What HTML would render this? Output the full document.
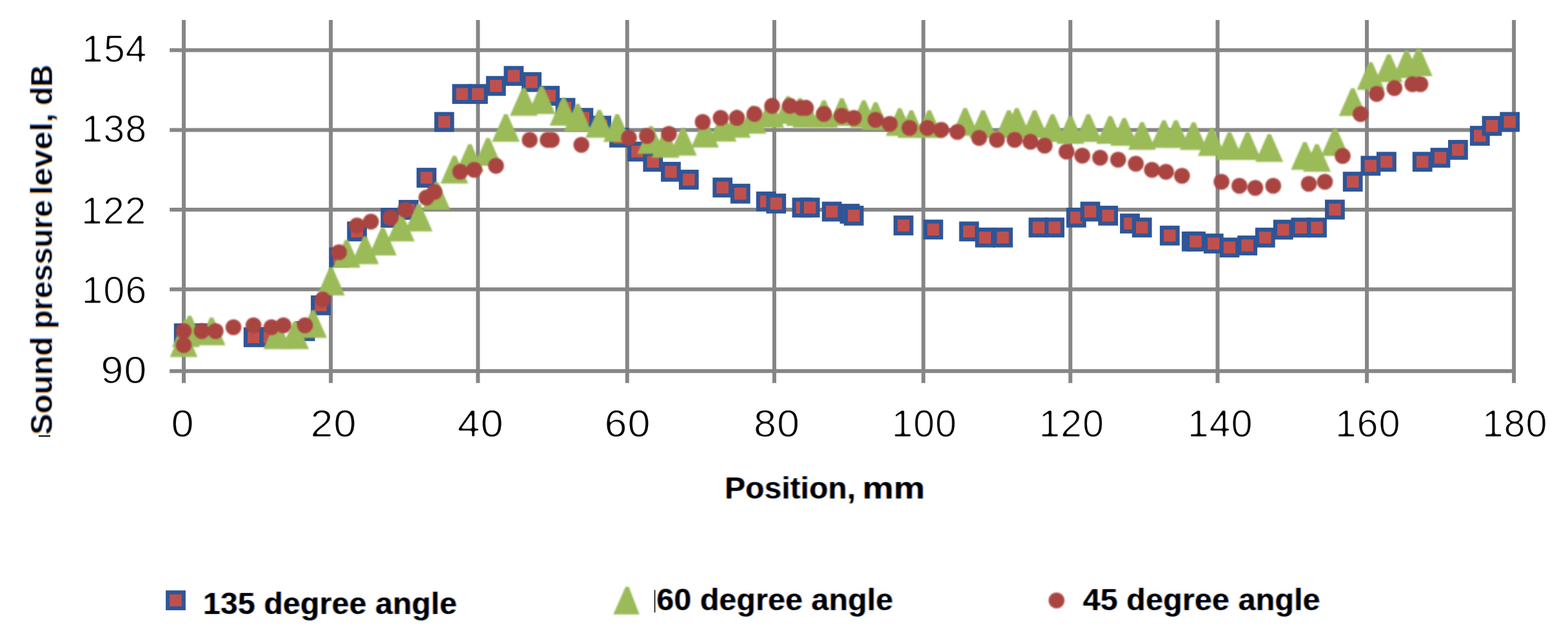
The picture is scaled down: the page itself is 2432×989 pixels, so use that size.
<!DOCTYPE html>
<html lang="en">
<head>
<meta charset="utf-8">
<title>Sound pressure level vs position</title>
<style>
html,body{margin:0;padding:0;background:#fff;}
body{width:2432px;height:989px;overflow:hidden;font-family:"Liberation Sans",sans-serif;}
svg{display:block;}
.t{font-family:"Liberation Sans",sans-serif;font-size:59.5px;letter-spacing:0.8px;fill:#000;filter:url(#ft);}
.b{font-family:"Liberation Sans",sans-serif;font-size:49px;font-weight:bold;fill:#000;}
.b text{filter:url(#fb);}
.b text.v{filter:url(#fv);}
.g{stroke:#868686;stroke-width:6;fill:none;}
.s rect{fill:#c0504d;stroke:#2f5597;stroke-width:6.2;}
.r path{fill:#9bbb59;}
.c circle{fill:#aa4440;}
.r,.c{filter:url(#soft);}
</style>
</head>
<body>
<svg width="2432" height="989" viewBox="0 0 2432 989">
<defs>
<filter id="soft" x="0" y="0" width="100%" height="100%" filterUnits="userSpaceOnUse" color-interpolation-filters="sRGB">
  <feGaussianBlur stdDeviation="0.8"/>
</filter>
<filter id="ft" x="-10%" y="-30%" width="120%" height="160%" color-interpolation-filters="sRGB">
  <feGaussianBlur in="SourceAlpha" stdDeviation="1.0" result="b"/>
  <feComponentTransfer in="b" result="core"><feFuncA type="linear" slope="3.0" intercept="-1.6"/></feComponentTransfer>
  <feFlood flood-color="#000"/><feComposite in2="core" operator="in"/>
</filter>
<filter id="fb" x="-10%" y="-40%" width="120%" height="180%" color-interpolation-filters="sRGB">
  <feGaussianBlur in="SourceAlpha" stdDeviation="1.0" result="b"/>
  <feComponentTransfer in="b" result="core"><feFuncA type="linear" slope="3.0" intercept="-1.5"/></feComponentTransfer>
  <feOffset in="SourceAlpha" dx="-1.4" result="ol"/>
  <feFlood flood-color="#d07818" flood-opacity="0.8"/><feComposite in2="ol" operator="in" result="or"/>
  <feOffset in="SourceAlpha" dx="1.4" result="bl"/>
  <feFlood flood-color="#2468d0" flood-opacity="0.8"/><feComposite in2="bl" operator="in" result="bu"/>
  <feFlood flood-color="#000"/><feComposite in2="core" operator="in" result="k"/>
  <feMerge result="m"><feMergeNode in="or"/><feMergeNode in="bu"/><feMergeNode in="k"/></feMerge>
  <feGaussianBlur in="m" stdDeviation="0.6"/>
</filter>
<filter id="fv" x="-10%" y="-40%" width="120%" height="180%" color-interpolation-filters="sRGB">
  <feGaussianBlur in="SourceAlpha" stdDeviation="1.3" result="b"/>
  <feComponentTransfer in="b" result="core"><feFuncA type="linear" slope="3.0" intercept="-1.9"/></feComponentTransfer>
  <feOffset in="SourceAlpha" dx="-1.2" result="ol"/>
  <feFlood flood-color="#d07818" flood-opacity="0.7"/><feComposite in2="ol" operator="in" result="or"/>
  <feOffset in="SourceAlpha" dx="1.2" result="bl"/>
  <feFlood flood-color="#2468d0" flood-opacity="0.7"/><feComposite in2="bl" operator="in" result="bu"/>
  <feFlood flood-color="#000"/><feComposite in2="core" operator="in" result="k"/>
  <feMerge result="m"><feMergeNode in="or"/><feMergeNode in="bu"/><feMergeNode in="k"/></feMerge>
  <feGaussianBlur in="m" stdDeviation="0.6"/>
</filter>
</defs>
<rect width="2432" height="989" fill="#fff"/>
<g class="g">
<line x1="263.2" y1="77.8" x2="2351.1" y2="77.8"/>
<line x1="263.2" y1="201.4" x2="2351.1" y2="201.4"/>
<line x1="263.2" y1="324.9" x2="2351.1" y2="324.9"/>
<line x1="263.2" y1="448.6" x2="2351.1" y2="448.6"/>
<line x1="263.2" y1="575.3" x2="2351.1" y2="575.3"/>
<line x1="285.0" y1="31.1" x2="285.0" y2="593.7"/>
<line x1="513.1" y1="31.1" x2="513.1" y2="593.7"/>
<line x1="741.3" y1="31.1" x2="741.3" y2="593.7"/>
<line x1="972.8" y1="31.1" x2="972.8" y2="593.7"/>
<line x1="1201.0" y1="31.1" x2="1201.0" y2="593.7"/>
<line x1="1432.2" y1="31.1" x2="1432.2" y2="593.7"/>
<line x1="1660.2" y1="31.1" x2="1660.2" y2="593.7"/>
<line x1="1888.5" y1="31.1" x2="1888.5" y2="593.7"/>
<line x1="2120.0" y1="31.1" x2="2120.0" y2="593.7"/>
<line x1="2348.1" y1="31.1" x2="2348.1" y2="593.7"/>
</g>
<g class="s">
<rect x="272.9" y="504.4" width="24.6" height="24.6"/>
<rect x="300.5" y="504.4" width="24.6" height="24.6"/>
<rect x="380.9" y="510.5" width="24.6" height="24.6"/>
<rect x="405.7" y="510.3" width="24.6" height="24.6"/>
<rect x="460.8" y="501.0" width="24.6" height="24.6"/>
<rect x="485.2" y="461.0" width="24.6" height="24.6"/>
<rect x="513.7" y="386.7" width="24.6" height="24.6"/>
<rect x="541.4" y="346.5" width="24.6" height="24.6"/>
<rect x="593.5" y="325.3" width="24.6" height="24.6"/>
<rect x="621.4" y="313.0" width="24.6" height="24.6"/>
<rect x="649.2" y="263.2" width="24.6" height="24.6"/>
<rect x="676.7" y="176.7" width="24.6" height="24.6"/>
<rect x="704.4" y="133.4" width="24.6" height="24.6"/>
<rect x="729.0" y="133.4" width="24.6" height="24.6"/>
<rect x="756.9" y="120.9" width="24.6" height="24.6"/>
<rect x="784.5" y="105.4" width="24.6" height="24.6"/>
<rect x="812.2" y="114.9" width="24.6" height="24.6"/>
<rect x="840.4" y="136.2" width="24.6" height="24.6"/>
<rect x="864.7" y="154.9" width="24.6" height="24.6"/>
<rect x="892.5" y="170.4" width="24.6" height="24.6"/>
<rect x="920.4" y="182.5" width="24.6" height="24.6"/>
<rect x="948.2" y="201.0" width="24.6" height="24.6"/>
<rect x="976.2" y="222.7" width="24.6" height="24.6"/>
<rect x="1000.5" y="238.5" width="24.6" height="24.6"/>
<rect x="1028.2" y="254.0" width="24.6" height="24.6"/>
<rect x="1056.0" y="266.2" width="24.6" height="24.6"/>
<rect x="1108.4" y="278.4" width="24.6" height="24.6"/>
<rect x="1136.0" y="287.9" width="24.6" height="24.6"/>
<rect x="1175.9" y="300.0" width="24.6" height="24.6"/>
<rect x="1191.5" y="303.2" width="24.6" height="24.6"/>
<rect x="1231.7" y="309.5" width="24.6" height="24.6"/>
<rect x="1243.9" y="309.5" width="24.6" height="24.6"/>
<rect x="1277.9" y="315.7" width="24.6" height="24.6"/>
<rect x="1305.7" y="319.0" width="24.6" height="24.6"/>
<rect x="1311.9" y="322.0" width="24.6" height="24.6"/>
<rect x="1389.0" y="337.2" width="24.6" height="24.6"/>
<rect x="1435.1" y="343.5" width="24.6" height="24.6"/>
<rect x="1490.7" y="346.5" width="24.6" height="24.6"/>
<rect x="1515.5" y="355.9" width="24.6" height="24.6"/>
<rect x="1543.2" y="355.9" width="24.6" height="24.6"/>
<rect x="1598.5" y="340.4" width="24.6" height="24.6"/>
<rect x="1623.2" y="340.4" width="24.6" height="24.6"/>
<rect x="1657.0" y="325.0" width="24.6" height="24.6"/>
<rect x="1678.7" y="315.7" width="24.6" height="24.6"/>
<rect x="1706.4" y="322.0" width="24.6" height="24.6"/>
<rect x="1740.2" y="334.2" width="24.6" height="24.6"/>
<rect x="1758.9" y="340.4" width="24.6" height="24.6"/>
<rect x="1802.0" y="352.9" width="24.6" height="24.6"/>
<rect x="1836.0" y="362.0" width="24.6" height="24.6"/>
<rect x="1842.2" y="362.0" width="24.6" height="24.6"/>
<rect x="1870.0" y="365.2" width="24.6" height="24.6"/>
<rect x="1894.7" y="371.4" width="24.6" height="24.6"/>
<rect x="1922.4" y="368.2" width="24.6" height="24.6"/>
<rect x="1950.0" y="356.0" width="24.6" height="24.6"/>
<rect x="1978.0" y="343.7" width="24.6" height="24.6"/>
<rect x="2005.5" y="340.5" width="24.6" height="24.6"/>
<rect x="2030.2" y="340.5" width="24.6" height="24.6"/>
<rect x="2058.1" y="312.6" width="24.6" height="24.6"/>
<rect x="2085.9" y="269.3" width="24.6" height="24.6"/>
<rect x="2113.6" y="244.7" width="24.6" height="24.6"/>
<rect x="2138.1" y="238.5" width="24.6" height="24.6"/>
<rect x="2193.9" y="238.5" width="24.6" height="24.6"/>
<rect x="2221.7" y="232.2" width="24.6" height="24.6"/>
<rect x="2249.1" y="220.0" width="24.6" height="24.6"/>
<rect x="2283.0" y="198.2" width="24.6" height="24.6"/>
<rect x="2301.7" y="182.9" width="24.6" height="24.6"/>
<rect x="2329.4" y="176.7" width="24.6" height="24.6"/>
<rect x="260.2" y="918.3" width="24.6" height="24.6"/>
</g>
<g class="r">
<path d="M263.5 553.5L282.4 510.6h5.2L306.5 553.5z"/>
<path d="M266.9 538.1L285.8 495.2h5.2L309.9 538.1z"/>
<path d="M272.7 532.5L291.6 489.6h5.2L315.7 532.5z"/>
<path d="M306.7 535.2L325.6 492.3h5.2L349.7 535.2z"/>
<path d="M408.4 541.2L427.3 498.3h5.2L451.4 541.2z"/>
<path d="M436.1 541.2L455.0 498.3h5.2L479.1 541.2z"/>
<path d="M464.0 523.8L482.9 480.9h5.2L507.0 523.8z"/>
<path d="M491.9 458.0L510.8 415.1h5.2L534.9 458.0z"/>
<path d="M516.0 415.0L534.9 372.1h5.2L559.0 415.0z"/>
<path d="M544.6 409.5L563.5 366.6h5.2L587.6 409.5z"/>
<path d="M572.2 396.0L591.1 353.1h5.2L615.2 396.0z"/>
<path d="M600.2 374.3L619.1 331.4h5.2L643.2 374.3z"/>
<path d="M627.9 358.8L646.8 315.9h5.2L670.9 358.8z"/>
<path d="M655.5 325.0L674.4 282.1h5.2L698.5 325.0z"/>
<path d="M683.3 284.5L702.2 241.6h5.2L726.3 284.5z"/>
<path d="M707.3 266.3L726.2 223.4h5.2L750.3 266.3z"/>
<path d="M735.3 257.0L754.2 214.1h5.2L778.3 257.0z"/>
<path d="M763.0 219.8L781.9 176.9h5.2L806.0 219.8z"/>
<path d="M790.9 179.5L809.8 136.6h5.2L833.9 179.5z"/>
<path d="M818.5 176.7L837.4 133.8h5.2L861.5 176.7z"/>
<path d="M852.6 194.8L871.5 151.9h5.2L895.6 194.8z"/>
<path d="M874.5 204.0L893.4 161.1h5.2L917.5 204.0z"/>
<path d="M908.2 213.5L927.1 170.6h5.2L951.2 213.5z"/>
<path d="M935.8 220.0L954.7 177.1h5.2L978.8 220.0z"/>
<path d="M988.4 238.4L1007.3 195.5h5.2L1031.4 238.4z"/>
<path d="M1010.8 244.4L1029.7 201.5h5.2L1053.8 244.4z"/>
<path d="M1037.8 241.3L1056.7 198.4h5.2L1080.8 241.3z"/>
<path d="M1071.9 228.8L1090.8 185.9h5.2L1114.9 228.8z"/>
<path d="M1099.5 219.6L1118.4 176.7h5.2L1142.5 219.6z"/>
<path d="M1121.3 213.4L1140.2 170.5h5.2L1164.3 213.4z"/>
<path d="M1145.8 207.3L1164.7 164.4h5.2L1188.8 207.3z"/>
<path d="M1173.3 198.1L1192.2 155.2h5.2L1216.3 198.1z"/>
<path d="M1200.7 192.1L1219.6 149.2h5.2L1243.7 192.1z"/>
<path d="M1219.3 195.2L1238.2 152.3h5.2L1262.3 195.2z"/>
<path d="M1229.2 198.1L1248.1 155.2h5.2L1272.2 198.1z"/>
<path d="M1256.4 198.3L1275.3 155.4h5.2L1299.4 198.3z"/>
<path d="M1284.2 195.2L1303.1 152.3h5.2L1327.2 195.2z"/>
<path d="M1318.3 198.3L1337.2 155.4h5.2L1361.3 198.3z"/>
<path d="M1336.6 201.4L1355.5 158.5h5.2L1379.6 201.4z"/>
<path d="M1374.0 210.7L1392.9 167.8h5.2L1417.0 210.7z"/>
<path d="M1392.0 213.8L1410.9 170.9h5.2L1435.0 213.8z"/>
<path d="M1419.8 213.8L1438.7 170.9h5.2L1462.8 213.8z"/>
<path d="M1475.5 210.5L1494.4 167.6h5.2L1518.5 210.5z"/>
<path d="M1503.2 213.8L1522.1 170.9h5.2L1546.2 213.8z"/>
<path d="M1543.2 213.8L1562.1 170.9h5.2L1586.2 213.8z"/>
<path d="M1555.5 210.5L1574.4 167.6h5.2L1598.5 210.5z"/>
<path d="M1583.2 213.8L1602.1 170.9h5.2L1626.2 213.8z"/>
<path d="M1611.0 220.0L1629.9 177.1h5.2L1654.0 220.0z"/>
<path d="M1638.8 223.0L1657.7 180.1h5.2L1681.8 223.0z"/>
<path d="M1666.5 220.0L1685.4 177.1h5.2L1709.5 220.0z"/>
<path d="M1700.5 223.0L1719.4 180.1h5.2L1743.5 223.0z"/>
<path d="M1722.2 226.0L1741.1 183.1h5.2L1765.2 226.0z"/>
<path d="M1749.8 232.2L1768.7 189.3h5.2L1792.8 232.2z"/>
<path d="M1783.8 229.3L1802.7 186.4h5.2L1826.8 229.3z"/>
<path d="M1802.3 229.3L1821.2 186.4h5.2L1845.3 229.3z"/>
<path d="M1829.8 232.5L1848.7 189.6h5.2L1872.8 232.5z"/>
<path d="M1858.0 241.7L1876.9 198.8h5.2L1901.0 241.7z"/>
<path d="M1885.5 248.0L1904.4 205.1h5.2L1928.5 248.0z"/>
<path d="M1913.5 248.0L1932.4 205.1h5.2L1956.5 248.0z"/>
<path d="M1947.2 251.0L1966.1 208.1h5.2L1990.2 251.0z"/>
<path d="M2002.3 263.2L2021.2 220.3h5.2L2045.3 263.2z"/>
<path d="M2021.0 266.3L2039.9 223.4h5.2L2064.0 266.3z"/>
<path d="M2049.1 241.8L2068.0 198.9h5.2L2092.1 241.8z"/>
<path d="M2076.6 179.7L2095.5 136.8h5.2L2119.6 179.7z"/>
<path d="M2104.5 139.3L2123.4 96.4h5.2L2147.5 139.3z"/>
<path d="M2132.5 127.2L2151.4 84.3h5.2L2175.5 127.2z"/>
<path d="M2160.2 121.0L2179.1 78.1h5.2L2203.2 121.0z"/>
<path d="M2178.8 118.0L2197.7 75.1h5.2L2221.8 118.0z"/>
<path d="M951.2 952.5L970.3 909.4h5L991.8 952.5z"/>
</g>
<g class="c">
<circle cx="284.9" cy="513.3" r="12.3"/>
<circle cx="284.9" cy="535.0" r="12.3"/>
<circle cx="312.8" cy="513.3" r="12.3"/>
<circle cx="334.4" cy="513.3" r="12.3"/>
<circle cx="362.1" cy="507.3" r="12.3"/>
<circle cx="393.2" cy="504.2" r="12.3"/>
<circle cx="421.0" cy="507.3" r="12.3"/>
<circle cx="439.6" cy="504.2" r="12.3"/>
<circle cx="473.1" cy="504.2" r="12.3"/>
<circle cx="500.5" cy="464.3" r="12.3"/>
<circle cx="525.8" cy="391.0" r="12.3"/>
<circle cx="553.7" cy="349.5" r="12.3"/>
<circle cx="575.3" cy="343.5" r="12.3"/>
<circle cx="605.8" cy="337.6" r="12.3"/>
<circle cx="628.6" cy="325.2" r="12.3"/>
<circle cx="661.4" cy="306.2" r="12.3"/>
<circle cx="673.8" cy="297.5" r="12.3"/>
<circle cx="713.8" cy="266.3" r="12.3"/>
<circle cx="735.5" cy="263.3" r="12.3"/>
<circle cx="769.3" cy="257.0" r="12.3"/>
<circle cx="821.6" cy="216.9" r="12.3"/>
<circle cx="849.4" cy="216.9" r="12.3"/>
<circle cx="855.8" cy="216.9" r="12.3"/>
<circle cx="901.7" cy="224.5" r="12.3"/>
<circle cx="975.5" cy="213.6" r="12.3"/>
<circle cx="1003.4" cy="210.7" r="12.3"/>
<circle cx="1037.5" cy="207.5" r="12.3"/>
<circle cx="1089.9" cy="189.0" r="12.3"/>
<circle cx="1117.8" cy="182.8" r="12.3"/>
<circle cx="1143.0" cy="182.8" r="12.3"/>
<circle cx="1170.2" cy="176.6" r="12.3"/>
<circle cx="1197.6" cy="164.1" r="12.3"/>
<circle cx="1225.2" cy="164.1" r="12.3"/>
<circle cx="1242.8" cy="167.3" r="12.3"/>
<circle cx="1250.0" cy="167.3" r="12.3"/>
<circle cx="1277.9" cy="176.5" r="12.3"/>
<circle cx="1305.5" cy="179.6" r="12.3"/>
<circle cx="1324.3" cy="182.7" r="12.3"/>
<circle cx="1358.0" cy="185.8" r="12.3"/>
<circle cx="1380.0" cy="192.0" r="12.3"/>
<circle cx="1410.6" cy="198.3" r="12.3"/>
<circle cx="1438.3" cy="198.3" r="12.3"/>
<circle cx="1460.0" cy="201.3" r="12.3"/>
<circle cx="1485.0" cy="204.5" r="12.3"/>
<circle cx="1518.7" cy="213.7" r="12.3"/>
<circle cx="1546.3" cy="216.7" r="12.3"/>
<circle cx="1573.7" cy="216.7" r="12.3"/>
<circle cx="1598.3" cy="219.7" r="12.3"/>
<circle cx="1620.3" cy="225.8" r="12.3"/>
<circle cx="1654.2" cy="235.0" r="12.3"/>
<circle cx="1678.7" cy="241.3" r="12.3"/>
<circle cx="1706.3" cy="244.5" r="12.3"/>
<circle cx="1734.2" cy="247.5" r="12.3"/>
<circle cx="1761.7" cy="253.7" r="12.3"/>
<circle cx="1786.7" cy="263.2" r="12.3"/>
<circle cx="1808.5" cy="266.3" r="12.3"/>
<circle cx="1833.3" cy="272.5" r="12.3"/>
<circle cx="1894.6" cy="281.7" r="12.3"/>
<circle cx="1922.3" cy="288.0" r="12.3"/>
<circle cx="1947.0" cy="291.2" r="12.3"/>
<circle cx="1974.8" cy="288.0" r="12.3"/>
<circle cx="2030.0" cy="285.0" r="12.3"/>
<circle cx="2055.0" cy="281.7" r="12.3"/>
<circle cx="2082.5" cy="241.7" r="12.3"/>
<circle cx="2110.3" cy="176.7" r="12.3"/>
<circle cx="2135.2" cy="145.6" r="12.3"/>
<circle cx="2162.8" cy="136.5" r="12.3"/>
<circle cx="2190.7" cy="130.5" r="12.3"/>
<circle cx="2203.0" cy="130.5" r="12.3"/>
<circle cx="1638.7" cy="930.7" r="12.3"/>
</g>
<rect x="1014.7" y="914.5" width="1.7" height="35" fill="#111"/>
<rect x="60" y="674.8" width="18" height="2.2" fill="#111"/>
<g>
<text class="t" text-anchor="end" transform="translate(228.5 96.0) scale(1.0 1)">154</text>
<text class="t" text-anchor="end" transform="translate(228.1 220.0) scale(1.0 1)">138</text>
<text class="t" text-anchor="end" transform="translate(227.5 347.0) scale(1.0 1)">122</text>
<text class="t" text-anchor="end" transform="translate(228.1 470.0) scale(1.0 1)">106</text>
<text class="t" text-anchor="end" transform="translate(228.1 594.0) scale(1.06 1)">90</text>
<text class="t" text-anchor="middle" transform="translate(283.5 677.0) scale(1.06 1)">0</text>
<text class="t" text-anchor="middle" transform="translate(517.5 677.0) scale(1.06 1)">20</text>
<text class="t" text-anchor="middle" transform="translate(745.5 677.0) scale(1.06 1)">40</text>
<text class="t" text-anchor="middle" transform="translate(973.5 677.0) scale(1.06 1)">60</text>
<text class="t" text-anchor="middle" transform="translate(1205.0 677.0) scale(1.06 1)">80</text>
<text class="t" text-anchor="middle" transform="translate(1433.5 677.0) scale(1.0 1)">100</text>
<text class="t" text-anchor="middle" transform="translate(1662.0 677.0) scale(1.0 1)">120</text>
<text class="t" text-anchor="middle" transform="translate(1892.5 677.0) scale(1.0 1)">140</text>
<text class="t" text-anchor="middle" transform="translate(2121.5 677.0) scale(1.0 1)">160</text>
<text class="t" text-anchor="middle" transform="translate(2349.5 677.0) scale(1.0 1)">180</text>
</g>
<g class="b">
<text y="772.6"><tspan x="1124.0" textLength="203.0" lengthAdjust="spacingAndGlyphs">Position,</tspan> <tspan x="1337.5" textLength="97.0" lengthAdjust="spacingAndGlyphs">mm</tspan></text>
<text class="v" transform="translate(81.1 677.8) rotate(-90)"><tspan x="3.8" textLength="152.2" lengthAdjust="spacingAndGlyphs">Sound</tspan> <tspan x="168.0" textLength="199.5" lengthAdjust="spacingAndGlyphs">pressure</tspan> <tspan x="375.5" textLength="126.5" lengthAdjust="spacingAndGlyphs">level,</tspan> <tspan x="514.5" textLength="63.0" lengthAdjust="spacingAndGlyphs">dB</tspan></text>
<text x="314.7" y="952.4" textLength="394.0" lengthAdjust="spacingAndGlyphs">135 degree angle</text>
<text x="1018.2" y="945.8" textLength="367.0" lengthAdjust="spacingAndGlyphs">60 degree angle</text>
<text x="1679.4" y="946.0" textLength="368.3" lengthAdjust="spacingAndGlyphs">45 degree angle</text>
</g>
</svg>
</body>
</html>
